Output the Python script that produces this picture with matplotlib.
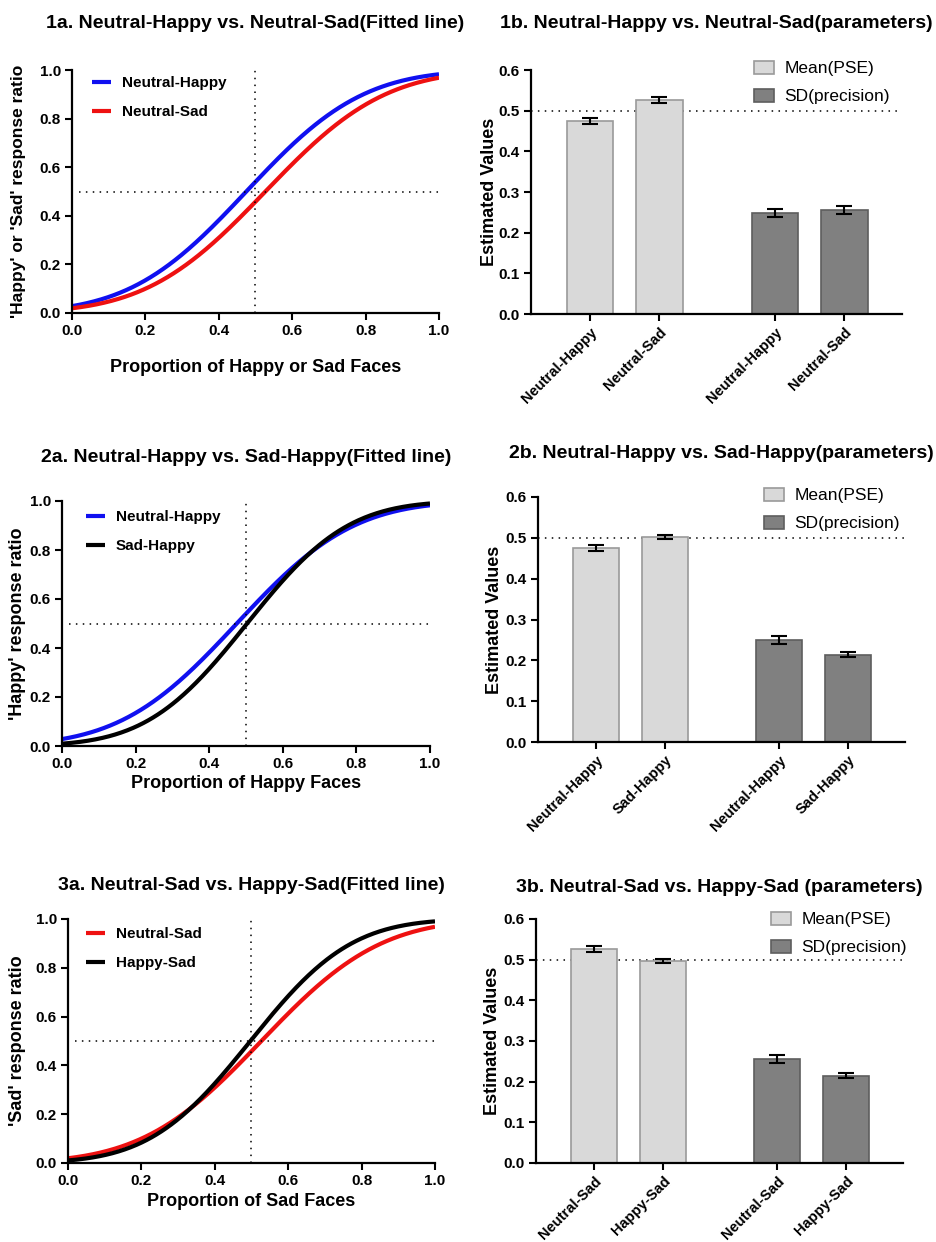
import math
import numpy as np
import matplotlib
matplotlib.use("Agg")
import matplotlib.pyplot as plt

plt.rcParams['font.family'] = ['Liberation Sans', 'DejaVu Sans']

# ---- data (parameters) ----
conditions = ["Neutral-Happy", "Neutral-Sad", "Sad-Happy", "Happy-Sad"]
pse_mean = {"Neutral-Happy": 0.475, "Neutral-Sad": 0.527, "Sad-Happy": 0.503, "Happy-Sad": 0.497}
pse_err = {"Neutral-Happy": 0.008, "Neutral-Sad": 0.007, "Sad-Happy": 0.005, "Happy-Sad": 0.005}
sd_mean = {"Neutral-Happy": 0.249, "Neutral-Sad": 0.255, "Sad-Happy": 0.214, "Happy-Sad": 0.215}
sd_err = {"Neutral-Happy": 0.010, "Neutral-Sad": 0.010, "Sad-Happy": 0.007, "Happy-Sad": 0.007}

line_colors = {"Neutral-Happy": "#1010F0", "Neutral-Sad": "#EE1111", "Sad-Happy": "#000000", "Happy-Sad": "#000000"}

panels = [
    dict(pair=["Neutral-Happy", "Neutral-Sad"],
         title_a="1a. Neutral-Happy vs. Neutral-Sad(Fitted line)",
         title_b="1b. Neutral-Happy vs. Neutral-Sad(parameters)",
         xlabel="Proportion of Happy or Sad Faces",
         ylabel="'Happy' or 'Sad' response ratio"),
    dict(pair=["Neutral-Happy", "Sad-Happy"],
         title_a="2a. Neutral-Happy vs. Sad-Happy(Fitted line)",
         title_b="2b. Neutral-Happy vs. Sad-Happy(parameters)",
         xlabel="Proportion of Happy Faces",
         ylabel="'Happy' response ratio"),
    dict(pair=["Neutral-Sad", "Happy-Sad"],
         title_a="3a. Neutral-Sad vs. Happy-Sad(Fitted line)",
         title_b="3b. Neutral-Sad vs. Happy-Sad (parameters)",
         xlabel="Proportion of Sad Faces",
         ylabel="'Sad' response ratio"),
]

W, H = 937, 1242
fig = plt.figure(figsize=(W / 100, H / 100), dpi=100)


def px_axes(left, top, right, bottom):
    return fig.add_axes([left / W, 1 - bottom / H, (right - left) / W, (bottom - top) / H])


# layout in pixels (left, top, right, bottom)
a_boxes = [(72, 70, 439, 313), (62, 501, 430, 746), (68, 919, 435, 1163)]
b_boxes = [(531, 70, 902, 314), (538, 497, 905, 742), (536, 919, 903, 1163)]
a_title_y = [23, 457, 885]
b_title_y = [23, 453, 888]
a_xlabel_y = [368, 783, 1202]
a_ylabel_x = [18, 18, 18]
a_ylabel_fs = [12.5, 13, 13]
b_ylabel_x = [490, 495, 493]
a_leg = [(92, 76), (86, 510), (86, 927)]
b_leg = [(754, 61), (764, 488), (771, 912)]
DOT = (0, (1, 3.5))

ncdf = np.frompyfunc(lambda z: 0.5 * (1 + math.erf(z / math.sqrt(2))), 1, 1)
x = np.linspace(0, 1, 300)


def style_axes(ax):
    for s in ["top", "right"]:
        ax.spines[s].set_visible(False)
    for s in ["left", "bottom"]:
        ax.spines[s].set_linewidth(1.6)
    ax.tick_params(direction="out", length=5, width=1.5, labelsize=11, pad=3)
    for lab in ax.get_xticklabels() + ax.get_yticklabels():
        lab.set_fontweight("bold")


for i, p in enumerate(panels):
    # ---------- fitted lines ----------
    l, t, r, b = a_boxes[i]
    ax = px_axes(l, t, r, b)
    for c in p["pair"]:
        y = ncdf((x - pse_mean[c]) / sd_mean[c]).astype(float)
        ax.plot(x, y, color=line_colors[c], lw=3, label=c, solid_capstyle="butt")
    ax.plot([0.5, 0.5], [0, 1], color="black", lw=1.1, ls=DOT)
    ax.plot([0.02, 1.0], [0.5, 0.5], color="black", lw=1.1, ls=DOT)
    ax.set_xlim(0, 1)
    ax.set_ylim(0, 1)
    ax.set_xticks(np.arange(0, 1.01, 0.2))
    ax.set_yticks(np.arange(0, 1.01, 0.2))
    ax.set_xticklabels([f"{v:.1f}" for v in np.arange(0, 1.01, 0.2)])
    ax.set_yticklabels([f"{v:.1f}" for v in np.arange(0, 1.01, 0.2)])
    style_axes(ax)
    ax.set_xlabel(p["xlabel"], fontsize=13, fontweight="bold")
    ax.xaxis.set_label_coords(0.5, (b - a_xlabel_y[i]) / (b - t))
    ax.xaxis.label.set_va("center")
    ax.set_ylabel(p["ylabel"], fontsize=a_ylabel_fs[i], fontweight="bold")
    ax.yaxis.set_label_coords((a_ylabel_x[i] - l) / (r - l), 0.5)
    ax.yaxis.label.set_va("center")
    lx, ly = a_leg[i]
    ax.legend(loc="upper left", bbox_to_anchor=((lx - l) / (r - l), (b - ly) / (b - t)),
              frameon=False, borderpad=0, borderaxespad=0, handlelength=1.25,
              handletextpad=0.7, labelspacing=1.0,
              prop=dict(size=11, weight="bold"))
    fig.text((l + r) / 2 / W, 1 - a_title_y[i] / H, p["title_a"], ha="center", va="center",
             fontsize=14, fontweight="bold")

    # ---------- parameter bars ----------
    l, t, r, b = b_boxes[i]
    ax = px_axes(l, t, r, b)
    pos = [0, 1, 2.67, 3.67]
    vals = [pse_mean[p["pair"][0]], pse_mean[p["pair"][1]], sd_mean[p["pair"][0]], sd_mean[p["pair"][1]]]
    errs = [pse_err[p["pair"][0]], pse_err[p["pair"][1]], sd_err[p["pair"][0]], sd_err[p["pair"][1]]]
    ax.bar(pos[:2], vals[:2], width=0.67, color="#D9D9D9", edgecolor="#9A9A9A", lw=1.2,
           label="Mean(PSE)", zorder=2)
    ax.bar(pos[2:], vals[2:], width=0.67, color="#808080", edgecolor="#5E5E5E", lw=1.2,
           label="SD(precision)", zorder=2)
    ax.errorbar(pos, vals, yerr=errs, fmt="none", ecolor="black", elinewidth=1.5,
                capsize=6, capthick=1.5, zorder=3)
    ax.axhline(0.5, color="black", lw=1.1, ls=DOT, zorder=1)
    ax.set_xlim(-0.85, 4.5)
    ax.set_ylim(0, 0.6)
    ax.set_yticks(np.arange(0, 0.61, 0.1))
    ax.set_yticklabels([f"{v:.1f}" for v in np.arange(0, 0.61, 0.1)])
    ax.set_xticks(pos)
    ax.set_xticklabels(p["pair"] + p["pair"], rotation=45, ha="right", rotation_mode="anchor")
    style_axes(ax)
    ax.tick_params(axis="x", pad=3, labelsize=10.5)
    ax.set_ylabel("Estimated Values", fontsize=13, fontweight="bold")
    ax.yaxis.set_label_coords((b_ylabel_x[i] - l) / (r - l), 0.5)
    ax.yaxis.label.set_va("center")
    lx, ly = b_leg[i]
    ax.legend(loc="upper left", bbox_to_anchor=((lx - l) / (r - l), (b - ly) / (b - t)),
              frameon=False, borderpad=0, borderaxespad=0, handlelength=1.15,
              handleheight=0.75, handletextpad=0.6, labelspacing=0.72,
              prop=dict(size=12.5))
    fig.text((l + r) / 2 / W, 1 - b_title_y[i] / H, p["title_b"], ha="center", va="center",
             fontsize=14, fontweight="bold")

fig.savefig("out.png", dpi=100)
